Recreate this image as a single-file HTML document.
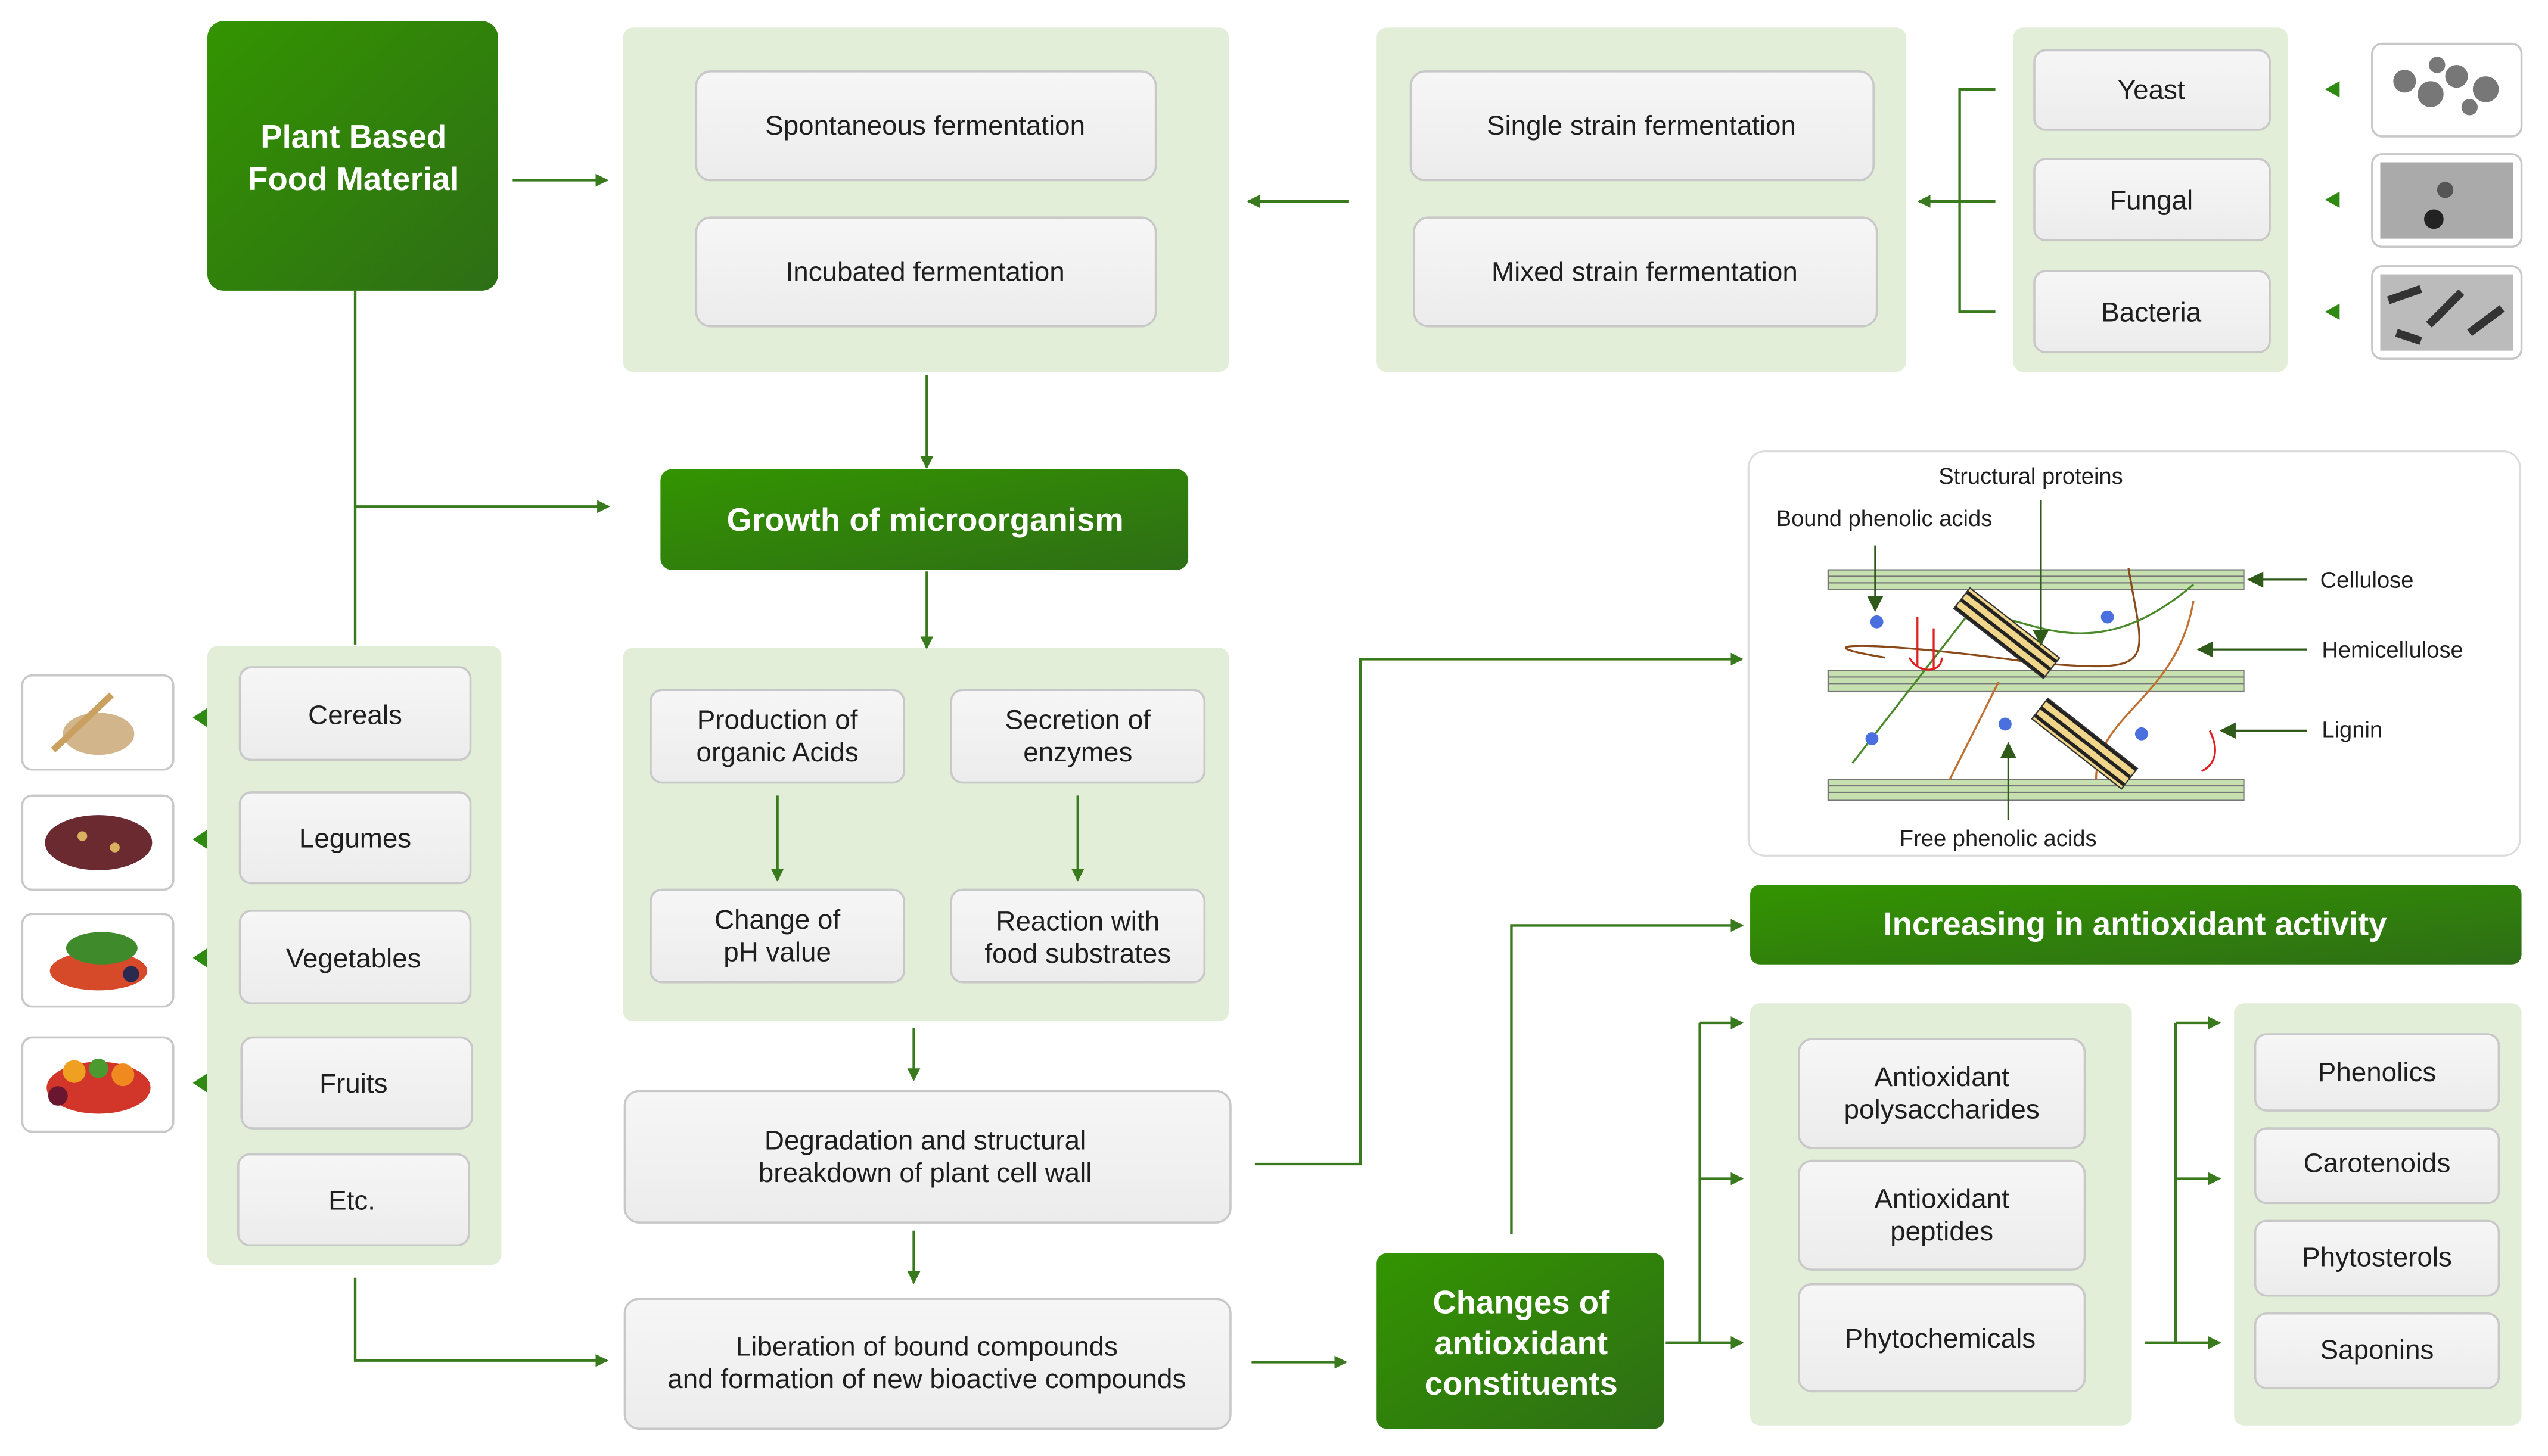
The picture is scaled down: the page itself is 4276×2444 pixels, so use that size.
<!DOCTYPE html>
<html><head><meta charset="utf-8"><style>
html,body{margin:0;padding:0;background:#fff;width:4276px;height:2444px;overflow:hidden}
svg{display:block}
text{font-family:"Liberation Sans",Arial,sans-serif;}
.t{font-size:16.8px;fill:#1e1e1e;text-anchor:middle}
.w{font-size:20px;font-weight:bold;fill:#fff;text-anchor:middle}
</style></head><body>
<svg width="4276" height="2444" viewBox="-0.7 0 1569 896.8" preserveAspectRatio="none" xmlns="http://www.w3.org/2000/svg">
<defs>
<linearGradient id="g" x1="0" y1="0" x2="1" y2="1"><stop offset="0" stop-color="#339400"/><stop offset="1" stop-color="#2e6e16"/></linearGradient>
<linearGradient id="b" x1="0" y1="0" x2="0" y2="1"><stop offset="0" stop-color="#f6f6f6"/><stop offset="1" stop-color="#ececec"/></linearGradient>
<marker id="a" markerWidth="8" markerHeight="8" refX="7" refY="4" orient="auto" markerUnits="userSpaceOnUse"><path d="M0,0 L8,4 L0,8 z" fill="#3a7a1e"/></marker>
<marker id="d" markerWidth="10" markerHeight="10" refX="9" refY="5" orient="auto" markerUnits="userSpaceOnUse"><path d="M0,0 L10,5 L0,10 z" fill="#2f5a1a"/></marker>
<pattern id="h" width="6" height="6" patternUnits="userSpaceOnUse"><rect width="6" height="6" fill="#f0d68a"/><rect width="6" height="2.2" fill="#222"/></pattern>
</defs>
<g fill="#e2eed8">
<rect x="383" y="17" width="373" height="212" rx="6"/>
<rect x="847" y="17" width="326" height="212" rx="6"/>
<rect x="1239" y="17" width="169" height="212" rx="6"/>
<rect x="383" y="399" width="373" height="230" rx="6"/>
<rect x="127" y="398" width="181" height="381" rx="6"/>
<rect x="1077" y="618" width="235" height="260" rx="6"/>
<rect x="1375" y="618" width="177" height="260" rx="6"/>
</g>
<g fill="url(#g)">
<rect x="127" y="13" width="179" height="166" rx="10"/>
<rect x="406" y="289" width="325" height="62" rx="7"/>
<rect x="847" y="772" width="177" height="108" rx="6"/>
<rect x="1077" y="545" width="475" height="49" rx="6"/>
</g>
<text class="w" x="217" y="91">Plant Based</text><text class="w" x="217" y="117">Food Material</text>
<text class="w" x="569" y="327">Growth of microorganism</text>
<text class="w" x="936" y="809">Changes of</text><text class="w" x="936" y="834">antioxidant</text><text class="w" x="936" y="859">constituents</text>
<text class="w" x="1314" y="576">Increasing in antioxidant activity</text>
<g fill="url(#b)" stroke="#c8c8c8" stroke-width="1.3">
<rect x="428" y="44" width="283" height="67" rx="9"/>
<rect x="428" y="134" width="283" height="67" rx="9"/>
<rect x="868" y="44" width="285" height="67" rx="9"/>
<rect x="870" y="134" width="285" height="67" rx="9"/>
<rect x="1252" y="31" width="145" height="49" rx="7"/>
<rect x="1252" y="98" width="145" height="50" rx="7"/>
<rect x="1252" y="167" width="145" height="50" rx="7"/>
<rect x="400" y="425" width="156" height="57" rx="7"/>
<rect x="585" y="425" width="156" height="57" rx="7"/>
<rect x="400" y="548" width="156" height="57" rx="7"/>
<rect x="585" y="548" width="156" height="57" rx="7"/>
<rect x="384" y="672" width="373" height="81" rx="9"/>
<rect x="384" y="800" width="373" height="80" rx="9"/>
<rect x="147" y="411" width="142" height="57" rx="7"/>
<rect x="147" y="488" width="142" height="56" rx="7"/>
<rect x="147" y="561" width="142" height="57" rx="7"/>
<rect x="148" y="639" width="142" height="56" rx="7"/>
<rect x="146" y="711" width="142" height="56" rx="7"/>
<rect x="1107" y="640" width="176" height="67" rx="8"/>
<rect x="1107" y="715" width="176" height="67" rx="8"/>
<rect x="1107" y="791" width="176" height="66" rx="8"/>
<rect x="1388" y="637" width="150" height="47" rx="7"/>
<rect x="1388" y="695" width="150" height="46" rx="7"/>
<rect x="1388" y="752" width="150" height="46" rx="7"/>
<rect x="1388" y="809" width="150" height="46" rx="7"/>
</g>
<g>
<text class="t" x="569" y="83">Spontaneous fermentation</text>
<text class="t" x="569" y="173">Incubated fermentation</text>
<text class="t" x="1010" y="83">Single strain fermentation</text>
<text class="t" x="1012" y="173">Mixed strain fermentation</text>
<text class="t" x="1324" y="61">Yeast</text>
<text class="t" x="1324" y="129">Fungal</text>
<text class="t" x="1324" y="198">Bacteria</text>
<text class="t" x="478" y="449">Production of</text><text class="t" x="478" y="469">organic Acids</text>
<text class="t" x="663" y="449">Secretion of</text><text class="t" x="663" y="469">enzymes</text>
<text class="t" x="478" y="572">Change of</text><text class="t" x="478" y="592">pH value</text>
<text class="t" x="663" y="573">Reaction with</text><text class="t" x="663" y="593">food substrates</text>
<text class="t" x="569" y="708">Degradation and structural</text><text class="t" x="569" y="728">breakdown of plant cell wall</text>
<text class="t" x="570" y="835">Liberation of bound compounds</text><text class="t" x="570" y="855">and formation of new bioactive compounds</text>
<text class="t" x="218" y="446">Cereals</text>
<text class="t" x="218" y="522">Legumes</text>
<text class="t" x="217" y="596">Vegetables</text>
<text class="t" x="217" y="673">Fruits</text>
<text class="t" x="216" y="745">Etc.</text>
<text class="t" x="1195" y="669">Antioxidant</text><text class="t" x="1195" y="689">polysaccharides</text>
<text class="t" x="1195" y="744">Antioxidant</text><text class="t" x="1195" y="764">peptides</text>
<text class="t" x="1194" y="830">Phytochemicals</text>
<text class="t" x="1463" y="666">Phenolics</text>
<text class="t" x="1463" y="722">Carotenoids</text>
<text class="t" x="1463" y="780">Phytosterols</text>
<text class="t" x="1463" y="837">Saponins</text>
</g>
<g stroke="#3a7a1e" stroke-width="1.6" fill="none">
<line x1="315" y1="111" x2="373" y2="111" marker-end="url(#a)"/>
<line x1="830" y1="124" x2="768" y2="124" marker-end="url(#a)"/>
<path d="M1228,55 H1206 V192 H1228 M1206,124 H1228"/>
<line x1="1206" y1="124" x2="1181" y2="124" marker-end="url(#a)"/>
<line x1="570" y1="231" x2="570" y2="288" marker-end="url(#a)"/>
<line x1="218" y1="179" x2="218" y2="397"/>
<line x1="218" y1="312" x2="374" y2="312" marker-end="url(#a)"/>
<line x1="570" y1="352" x2="570" y2="399" marker-end="url(#a)"/>
<line x1="478" y1="490" x2="478" y2="542" marker-end="url(#a)"/>
<line x1="663" y1="490" x2="663" y2="542" marker-end="url(#a)"/>
<line x1="562" y1="633" x2="562" y2="665" marker-end="url(#a)"/>
<line x1="562" y1="758" x2="562" y2="790" marker-end="url(#a)"/>
<path d="M218,787 V838 H373" marker-end="url(#a)"/>
<line x1="770" y1="839" x2="828" y2="839" marker-end="url(#a)"/>
<path d="M772,717 H837 V406 H1072" marker-end="url(#a)"/>
<path d="M930,760 V570 H1072" marker-end="url(#a)"/>
<path d="M1025,827 H1046 V630"/>
<line x1="1046" y1="630" x2="1072" y2="630" marker-end="url(#a)"/>
<line x1="1046" y1="726" x2="1072" y2="726" marker-end="url(#a)"/>
<line x1="1046" y1="827" x2="1072" y2="827" marker-end="url(#a)"/>
<path d="M1320,827 H1339 V630"/>
<line x1="1339" y1="630" x2="1366" y2="630" marker-end="url(#a)"/>
<line x1="1339" y1="726" x2="1366" y2="726" marker-end="url(#a)"/>
<line x1="1339" y1="827" x2="1366" y2="827" marker-end="url(#a)"/>
</g>
<g fill="#2f8a12">
<path d="M1431,55 l9,-5 v10z"/><path d="M1431,123 l9,-5 v10z"/><path d="M1431,192 l9,-5 v10z"/>
<path d="M118,442 l9,-6 v12z"/><path d="M118,517 l9,-6 v12z"/><path d="M118,590 l9,-6 v12z"/><path d="M118,667 l9,-6 v12z"/>
</g>
<g stroke="#c8c8c8" stroke-width="1.3" fill="#fff">
<rect x="1460" y="27" width="92" height="57" rx="6"/><rect x="1460" y="95" width="92" height="57" rx="6"/><rect x="1460" y="164" width="92" height="57" rx="6"/>
<rect x="13" y="416" width="93" height="58" rx="6"/><rect x="13" y="490" width="93" height="58" rx="6"/><rect x="13" y="563" width="93" height="57" rx="6"/><rect x="13" y="639" width="93" height="58" rx="6"/>
</g>
<g fill="#777"><circle cx="1480" cy="50" r="7"/><circle cx="1496" cy="58" r="8"/><circle cx="1512" cy="47" r="7"/><circle cx="1530" cy="55" r="8"/><circle cx="1500" cy="40" r="5"/><circle cx="1520" cy="66" r="5"/></g>
<rect x="1465" y="100" width="82" height="47" fill="#aaa"/><circle cx="1498" cy="135" r="6" fill="#222"/><circle cx="1505" cy="117" r="5" fill="#555"/>
<rect x="1465" y="169" width="82" height="47" fill="#bbb"/><g stroke="#333" stroke-width="5"><line x1="1470" y1="185" x2="1490" y2="178"/><line x1="1495" y1="200" x2="1515" y2="180"/><line x1="1520" y1="205" x2="1540" y2="190"/><line x1="1475" y1="205" x2="1490" y2="210"/></g>
<ellipse cx="60" cy="452" rx="22" ry="13" fill="#d2b58a"/><line x1="32" y1="462" x2="68" y2="428" stroke="#c9a060" stroke-width="4"/>
<ellipse cx="60" cy="519" rx="33" ry="17" fill="#6b2a30"/><circle cx="50" cy="515" r="3" fill="#d9b060"/><circle cx="70" cy="522" r="3" fill="#d9b060"/>
<ellipse cx="60" cy="598" rx="30" ry="12" fill="#d64a2a"/><ellipse cx="62" cy="584" rx="22" ry="10" fill="#3f8a2a"/><circle cx="80" cy="600" r="5" fill="#2a2a50"/>
<ellipse cx="60" cy="670" rx="32" ry="16" fill="#d2352a"/><circle cx="45" cy="660" r="7" fill="#f0a020"/><circle cx="75" cy="662" r="7" fill="#f08a20"/><circle cx="35" cy="675" r="6" fill="#6a1630"/><circle cx="60" cy="658" r="6" fill="#4a9a30"/>
<rect x="1076" y="278" width="475" height="249" rx="10" fill="#fff" stroke="#ddd" stroke-width="1.2"/>
<g stroke="#777" stroke-width="0.8" fill="#c6e0b0">
<rect x="1125" y="351" width="256" height="12"/><rect x="1125" y="413" width="256" height="13"/><rect x="1125" y="480" width="256" height="13"/>
</g>
<g stroke="#777" stroke-width="0.8"><line x1="1125" y1="355" x2="1381" y2="355"/><line x1="1125" y1="359" x2="1381" y2="359"/><line x1="1125" y1="417" x2="1381" y2="417"/><line x1="1125" y1="421" x2="1381" y2="421"/><line x1="1125" y1="484" x2="1381" y2="484"/><line x1="1125" y1="488" x2="1381" y2="488"/></g>
<g fill="none" stroke-width="1.2">
<path d="M1160,405 C1100,395 1160,395 1250,408 C1330,415 1320,410 1310,350" stroke="#8a4a1a"/>
<path d="M1140,470 L1210,380 C1240,370 1280,420 1350,360" stroke="#4a8a2a"/>
<path d="M1200,480 L1230,420 M1290,480 C1290,440 1340,430 1350,370" stroke="#c07030"/>
<path d="M1180,410 v-30 M1190,412 v-25 M1175,405 c5,10 20,10 20,0" stroke="#e02020"/>
<path d="M1355,475 c10,-5 10,-15 5,-25" stroke="#e02020"/>
</g>
<g fill="#4a70e0"><circle cx="1155" cy="383" r="4"/><circle cx="1297" cy="380" r="4"/><circle cx="1152" cy="455" r="4"/><circle cx="1234" cy="446" r="4"/><circle cx="1318" cy="452" r="4"/></g>
<rect x="1200" y="382" width="70" height="16" fill="url(#h)" stroke="#333" stroke-width="0.8" transform="rotate(38 1235 390)"/>
<rect x="1248" y="450" width="70" height="16" fill="url(#h)" stroke="#333" stroke-width="0.8" transform="rotate(38 1283 458)"/>
<g stroke="#2f5a1a" stroke-width="1.2" fill="none">
<line x1="1154" y1="336" x2="1154" y2="376" marker-end="url(#d)"/>
<line x1="1256" y1="308" x2="1256" y2="397" marker-end="url(#d)"/>
<line x1="1236" y1="505" x2="1236" y2="458" marker-end="url(#d)"/>
<line x1="1420" y1="357" x2="1384" y2="357" marker-end="url(#d)"/>
<line x1="1420" y1="400" x2="1353" y2="400" marker-end="url(#d)"/>
<line x1="1420" y1="450" x2="1367" y2="450" marker-end="url(#d)"/>
</g>
<g style="font-size:14px;fill:#1e1e1e">
<text x="1193" y="298">Structural proteins</text>
<text x="1093" y="324">Bound phenolic acids</text>
<text x="1428" y="362">Cellulose</text>
<text x="1429" y="405">Hemicellulose</text>
<text x="1429" y="454">Lignin</text>
<text x="1169" y="521">Free phenolic acids</text>
</g>
</svg>
</body></html>
